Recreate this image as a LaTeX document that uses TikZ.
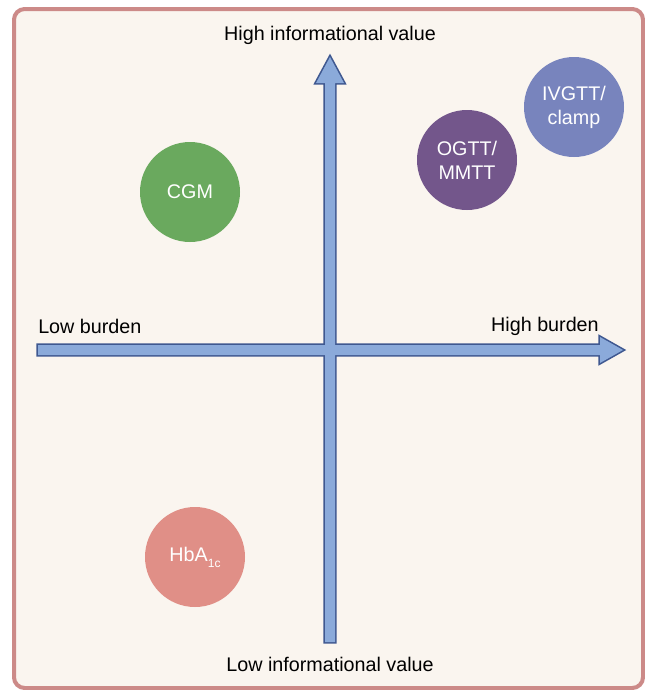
\documentclass[tikz,border=0pt]{standalone}
\usepackage{fontspec}
\setmainfont{Liberation Sans}
\definecolor{bgc}{HTML}{FAF5EF}
\definecolor{framec}{HTML}{CC8A88}
\definecolor{arrfill}{HTML}{8BAADA}
\definecolor{arrline}{HTML}{3F5890}
\definecolor{cgmc}{HTML}{6AA95E}
\definecolor{ogttc}{HTML}{73568B}
\definecolor{ivgttc}{HTML}{7884BD}
\definecolor{hbac}{HTML}{E08F87}
\begin{document}
\begin{tikzpicture}[x=0.75pt,y=-0.75pt,
  lbl/.style={font=\fontsize{14.8}{17}\selectfont, text=black, inner sep=0pt},
  bubble/.style={circle, minimum size=75pt, inner sep=0pt, text=white, align=center,
    font=\fontsize{14.8}{18}\selectfont}]
\useasboundingbox (0,0) rectangle (645,690);
\draw[line width=3pt, draw=framec, fill=bgc, rounded corners=8pt] (14,9) rectangle (643,688);
% arrows: outlines first, then fills
\def\varrow{(325,642) -- (325,83) -- (316,83) -- (330,57) -- (344,83) -- (335,83) -- (335,642) -- cycle}
\def\harrow{(38,345) -- (600,345) -- (600,337) -- (623,350) -- (600,363) -- (600,355) -- (38,355) -- cycle}
\draw[line width=2.4pt, draw=arrline, line join=miter] \varrow;
\draw[line width=2.4pt, draw=arrline, line join=miter] \harrow;
\fill[arrfill] \varrow;
\fill[arrfill] \harrow;
% labels
\node[lbl] (hiv) at (330,35) {High informational value};
\node[lbl] (liv) at (330,664) {Low informational value};
\node[lbl, anchor=west] (lb) at (38,326) {Low burden};
\node[lbl, anchor=east] (hb) at (599,326) {High burden};
% bubbles
\node[bubble, fill=cgmc] (cgm) at (190,192) {CGM};
\node[bubble, fill=ogttc] (ogtt) at (467,160) {OGTT/\\MMTT};
\node[bubble, fill=ivgttc] (ivgtt) at (574,107) {IVGTT/\\clamp};
\node[bubble, fill=hbac] (hba) at (195,557) {HbA\raisebox{-4.5pt}{\fontsize{9}{9}\selectfont 1c}};
\end{tikzpicture}
\end{document}
